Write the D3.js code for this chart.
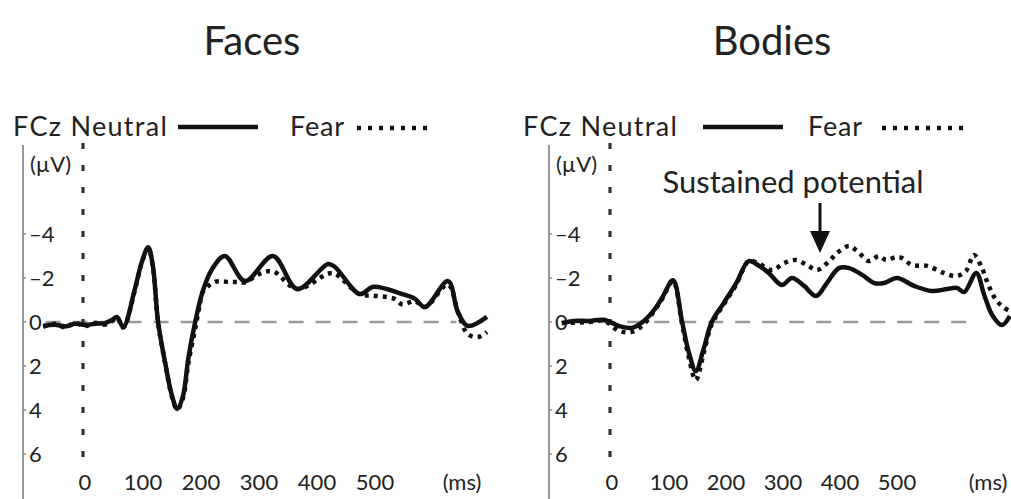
<!DOCTYPE html>
<html>
<head>
<meta charset="utf-8">
<script src="https://cdn.jsdelivr.net/npm/d3@7"></script>
<style>
  html, body { margin: 0; padding: 0; background: #fff; }
  svg { display: block; }
  text { font-family: Lato, "Open Sans", sans-serif; fill: #222; }
</style>
</head>
<body>
<svg id="chart" width="1011" height="499"></svg>
<script>
// ERP waveforms at FCz, [time in ms, amplitude in µV] (negative plotted upward)
const facesNeutral = [
  [-72, 0.18], [-52, 0.12], [-34, 0.2], [-17, 0.08], [0, 0.14], [17, 0.08], [34, 0.05],
  [47, -0.1], [55, -0.23], [66, 0.23], [86, -1.5], [98, -2.73], [109, -3.4], [117, -2.55],
  [126, 0], [138, 1.82], [150, 3.36], [159, 3.95], [169, 3.36], [178, 1.68], [190, 0],
  [203, -1.4], [219, -2.4], [241, -3.0], [276, -1.86], [324, -3.0], [366, -1.5],
  [419, -2.64], [431, -2.5], [474, -1.27], [497, -1.6], [547, -1.27], [569, -1.05],
  [586, -0.68], [626, -1.86], [643, -0.45], [660, 0.18], [693, -0.23]
];
const facesFear = [
  [-72, 0.22], [-52, 0.08], [-34, 0.25], [-17, 0.04], [0, 0.18], [17, 0.04], [34, 0.12],
  [47, -0.05], [55, -0.2], [66, 0.25], [86, -1.45], [98, -2.7], [109, -3.35], [117, -2.5],
  [126, 0.05], [138, 1.85], [150, 3.4], [159, 3.98], [169, 3.45], [178, 1.9], [190, 0.3],
  [198, -0.8], [203, -1.36], [224, -1.82], [250, -1.82], [267, -1.82], [276, -1.8],
  [302, -2.2], [324, -2.3], [366, -1.5], [419, -2.2], [431, -2.2], [474, -1.25],
  [497, -1.2], [534, -1.05], [547, -0.8], [569, -0.95], [586, -0.68], [626, -1.7],
  [643, -0.45], [660, 0.55], [678, 0.68], [693, 0.45]
];
const bodiesNeutral = [
  [-88, 0.05], [-67, -0.05], [-40, -0.05], [-14, -0.1], [12, 0.18], [35, 0.27], [56, -0.05],
  [74, -0.55], [88, -1.1], [107, -1.9], [123, 0], [135, 1.4], [147, 2.23], [161, 1.2],
  [175, 0], [196, -0.86], [218, -1.77], [240, -2.77], [258, -2.55], [275, -2.23],
  [298, -1.68], [316, -2.0], [337, -1.64], [358, -1.18], [377, -1.77], [398, -2.45],
  [416, -2.45], [439, -2.14], [460, -1.77], [477, -1.77], [500, -2.0], [530, -1.64],
  [561, -1.41], [588, -1.5], [605, -1.55], [618, -1.36], [639, -2.23], [653, -1.23],
  [667, -0.32], [684, 0.14], [698, -0.27]
];
const bodiesFear = [
  [-88, 0.05], [-40, 0], [-14, -0.05], [12, 0.4], [35, 0.45], [56, 0.1], [74, -0.5],
  [88, -1.05], [107, -1.85], [123, 0.1], [135, 1.64], [147, 2.64], [161, 1.4], [175, 0.1],
  [196, -0.8], [218, -1.7], [240, -2.77], [258, -2.64], [281, -2.36], [302, -2.68],
  [323, -2.82], [342, -2.59], [360, -2.36], [381, -2.77], [395, -3.14], [416, -3.45],
  [430, -3.23], [451, -2.77], [468, -3.0], [481, -2.82], [498, -2.95], [509, -2.9],
  [526, -2.59], [553, -2.55], [582, -2.23], [604, -2.09], [621, -2.32], [635, -3.05],
  [649, -2.45], [661, -1.64], [674, -1.0], [688, -0.64], [698, -0.5]
];

const timeTicks = [0, 100, 200, 300, 400, 500];
const voltTicks = [-4, -2, 0, 2, 4, 6];
const tickText = v => (v < 0 ? "\u2013" + Math.abs(v) : String(v));

const panels = [
  { title: "Faces", titleX: 252, axisX: 23, xRange: [85, 375], neutral: facesNeutral, fear: facesFear,
    legend: { text1: 13, line: [178, 258], text2: 290, dots: [357, 433] }, msX: 462 },
  { title: "Bodies", titleX: 772, axisX: 549, xRange: [612, 897], neutral: bodiesNeutral, fear: bodiesFear,
    legend: { text1: 523, line: [703, 783], text2: 808, dots: [882, 963] }, msX: 988,
    note: { text: "Sustained potential", x: 793, y: 193, arrowX: 820 } }
];

const svg = d3.select("#chart");
const y = d3.scaleLinear().domain([-4, 6]).range([234, 454]);

panels.forEach(p => {
  const x = d3.scaleLinear().domain([0, 500]).range(p.xRange);
  const g = svg.append("g");

  g.append("text").attr("x", p.titleX).attr("y", 55).attr("text-anchor", "middle")
    .style("font-size", "40px").text(p.title);

  // legend
  const L = p.legend;
  g.append("text").attr("x", L.text1).attr("y", 136).style("font-size", "27px")
    .style("letter-spacing", "1.3px").text("FCz Neutral");
  g.append("line").attr("x1", L.line[0]).attr("x2", L.line[1]).attr("y1", 127).attr("y2", 127)
    .attr("stroke", "#111").attr("stroke-width", 4.5);
  g.append("text").attr("x", L.text2).attr("y", 136).style("font-size", "27px")
    .style("letter-spacing", "0.8px").text("Fear");
  g.append("line").attr("x1", L.dots[0]).attr("x2", L.dots[1]).attr("y1", 128).attr("y2", 128)
    .attr("stroke", "#111").attr("stroke-width", 4.5).attr("stroke-dasharray", "4 7");

  // y axis
  g.append("line").attr("x1", p.axisX).attr("x2", p.axisX).attr("y1", 145).attr("y2", 499)
    .attr("stroke", "#808080").attr("stroke-width", 1.6);
  g.selectAll(".ytick").data(voltTicks).join("line")
    .attr("x1", p.axisX).attr("x2", p.axisX + 3).attr("y1", d => y(d)).attr("y2", d => y(d))
    .attr("stroke", "#808080").attr("stroke-width", 1.4);
  g.selectAll(".ylab").data(voltTicks).join("text")
    .attr("x", p.axisX + 6).attr("y", d => y(d)).attr("dy", "0.36em")
    .style("font-size", "22px").text(tickText);
  g.append("text").attr("x", p.axisX + 7).attr("y", 172).style("font-size", "22px").text("(\u00b5V)");

  // x labels
  g.selectAll(".xlab").data(timeTicks).join("text")
    .attr("x", d => x(d)).attr("y", 490).attr("text-anchor", "middle")
    .style("font-size", "22px").text(d => d);
  g.append("text").attr("x", p.msX).attr("y", 490).attr("text-anchor", "middle")
    .style("font-size", "22px").text("(ms)");

  // zero-amplitude baseline and stimulus onset
  g.append("line").attr("x1", x(-68)).attr("x2", x(640)).attr("y1", y(0)).attr("y2", y(0))
    .attr("stroke", "#9a9a9a").attr("stroke-width", 2.4).attr("stroke-dasharray", "15 12");
  g.append("line").attr("x1", x(0) - 2).attr("x2", x(0) - 2).attr("y1", 143).attr("y2", 458)
    .attr("stroke", "#333").attr("stroke-width", 3.2).attr("stroke-dasharray", "6 16");

  const line = d3.line().x(d => x(d[0])).y(d => y(d[1])).curve(d3.curveCatmullRom.alpha(0.5));
  g.append("path").datum(p.fear).attr("d", line).attr("fill", "none")
    .attr("stroke", "#111").attr("stroke-width", 4.5).attr("stroke-dasharray", "4 5");
  g.append("path").datum(p.neutral).attr("d", line).attr("fill", "none")
    .attr("stroke", "#111").attr("stroke-width", 4.5).attr("stroke-linejoin", "round");

  if (p.note) {
    const n = p.note;
    g.append("text").attr("x", n.x).attr("y", n.y).attr("text-anchor", "middle")
      .style("font-size", "31px").text(n.text);
    g.append("line").attr("x1", n.arrowX).attr("x2", n.arrowX).attr("y1", 203).attr("y2", 236)
      .attr("stroke", "#111").attr("stroke-width", 3);
    g.append("path").attr("d", d3.line()([[n.arrowX - 10, 231], [n.arrowX + 10, 231], [n.arrowX, 253]]) + "Z")
      .attr("fill", "#111");
  }
});
</script>
</body>
</html>
